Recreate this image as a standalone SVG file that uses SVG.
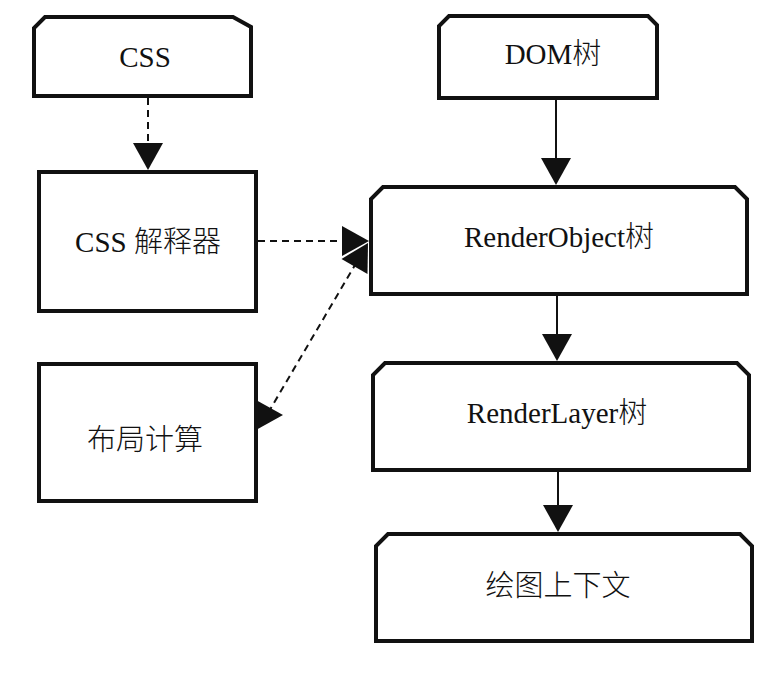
<svg xmlns="http://www.w3.org/2000/svg" xmlns:xlink="http://www.w3.org/1999/xlink" width="782" height="688" viewBox="0 0 782 688">
<style>
  .box { fill: #ffffff; stroke: #111111; stroke-width: 4; stroke-linejoin: miter; }
  .lbl { font-family: "Liberation Serif", "Noto Sans CJK SC", serif; font-size: 29px; fill: #111111; text-anchor: middle; }
  .cn { font-family: "Noto Sans CJK SC", sans-serif; font-weight: 300; font-size: 29px; }
  .solid { stroke: #111111; stroke-width: 2; fill: none; }
  .dash { stroke: #111111; stroke-width: 2; fill: none; stroke-dasharray: 7 5; }
  .head { fill: #111111; stroke: none; }
</style>
<defs>
  <path id="ah" d="M-27,-15 L0,0 L-27,15 Z"/>
</defs>
<rect width="782" height="688" fill="#ffffff"/>

<g id="connectors">
  <line class="dash" x1="148" y1="98" x2="148" y2="146"/>
  <use xlink:href="#ah" class="head" transform="translate(148,170) rotate(90)"/>
  <line class="solid" x1="556" y1="100" x2="556" y2="160"/>
  <use xlink:href="#ah" class="head" transform="translate(556,185) rotate(90)"/>
  <line class="solid" x1="557" y1="296" x2="557" y2="336"/>
  <use xlink:href="#ah" class="head" transform="translate(557,361) rotate(90)"/>
  <line class="solid" x1="558" y1="472" x2="558" y2="507"/>
  <use xlink:href="#ah" class="head" transform="translate(558,532) rotate(90)"/>
  <line class="dash" x1="258" y1="241" x2="343" y2="241"/>
  <use xlink:href="#ah" class="head" transform="translate(369,241)"/>
  <line class="dash" x1="268" y1="413" x2="355" y2="265"/>
  <use xlink:href="#ah" class="head" transform="translate(368,243) rotate(-60)"/>
  <use xlink:href="#ah" class="head" transform="translate(283,415)"/>
</g>

<g id="node-css">
  <path class="box" d="M34,96 L34,28 L45,17 L233,17 L251,27 L251,96 Z"/>
  <text class="lbl" x="145" y="67">CSS</text>
</g>
<g id="node-css-parser">
  <rect class="box" x="39" y="172" width="217" height="139"/>
  <text class="lbl" x="148" y="252">CSS <tspan class="cn">解释器</tspan></text>
</g>
<g id="node-layout">
  <rect class="box" x="39" y="364" width="217" height="137"/>
  <text class="lbl cn" x="145" y="450">布局计算</text>
</g>
<g id="node-dom">
  <path class="box" d="M439,98 L439,26 L449,16 L648,16 L657,25 L657,98 Z"/>
  <text class="lbl" x="553" y="64">DOM<tspan class="cn">树</tspan></text>
</g>
<g id="node-renderobject">
  <path class="box" d="M371,294 L371,199 L383,187 L735,187 L747,199 L747,294 Z"/>
  <text class="lbl" x="559" y="247">RenderObject<tspan class="cn">树</tspan></text>
</g>
<g id="node-renderlayer">
  <path class="box" d="M373,470 L373,375 L385,363 L737,363 L749,375 L749,470 Z"/>
  <text class="lbl" x="557" y="423">RenderLayer<tspan class="cn">树</tspan></text>
</g>
<g id="node-context">
  <path class="box" d="M376,641 L376,546 L388,534 L740,534 L752,546 L752,641 Z"/>
  <text class="lbl cn" x="558" y="596">绘图上下文</text>
</g>
</svg>
